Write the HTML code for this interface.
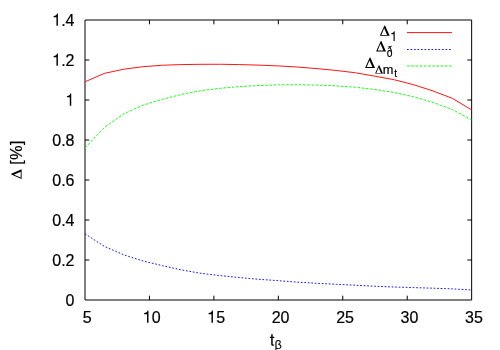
<!DOCTYPE html>
<html><head><meta charset="utf-8"><title>plot</title>
<style>
html,body{margin:0;padding:0;background:#fff;}
body{width:500px;height:350px;overflow:hidden;}
svg{display:block;will-change:transform;}
text{font-family:"Liberation Sans",sans-serif;font-size:16px;fill:#000;stroke:#000;stroke-width:0.2px;}
.sub{font-size:12.8px;}
.d{font-size:15px;}
</style></head><body>
<svg width="500" height="350" viewBox="0 0 500 350">
<defs><path id="one" d="M0.352,0 L0.352,0.765 L0.296,0.765 C0.280,0.680 0.215,0.622 0.082,0.605 L0.082,0.532 L0.262,0.532 L0.262,0 Z" fill="#000" stroke="none"/><path id="delta" fill-rule="evenodd" fill="#000" stroke="none" d="M0,0 L9.9,0 L5.25,-10.4 L4.65,-10.4 Z M1.6,-0.9 L7.3,-0.9 L4.35,-7.6 Z"/></defs>
<rect width="500" height="350" fill="#fff"/>
<g fill="none" stroke="#000" stroke-width="1">
<path d="M85.0,20.0 H471.65 V300.0 H85.0 Z"/>
<path d="M149.44,300.0 v-4.3 M149.44,20.0 v4.3 M213.88,300.0 v-4.3 M213.88,20.0 v4.3 M278.32,300.0 v-4.3 M278.32,20.0 v4.3 M342.77,300.0 v-4.3 M342.77,20.0 v4.3 M407.21,300.0 v-4.3 M407.21,20.0 v4.3 M85.0,260.00 h4.3 M471.65,260.00 h-4.3 M85.0,220.00 h4.3 M471.65,220.00 h-4.3 M85.0,180.00 h4.3 M471.65,180.00 h-4.3 M85.0,140.00 h4.3 M471.65,140.00 h-4.3 M85.0,100.00 h4.3 M471.65,100.00 h-4.3 M85.0,60.00 h4.3 M471.65,60.00 h-4.3 "/>
</g>
<g fill="none" stroke-width="0.92">
<path stroke="#ff0000" d="M85.00,81.80 L104.33,73.40 L123.66,69.24 L143.00,66.69 L162.33,65.25 L181.66,64.57 L200.99,64.30 L220.33,64.25 L239.66,64.60 L258.99,65.13 L278.32,65.92 L297.66,67.04 L316.99,68.64 L336.32,70.48 L355.65,72.81 L374.99,76.20 L394.32,79.76 L413.65,84.71 L432.99,90.96 L452.32,98.31 L471.65,109.90"/>
<path stroke="#0000ff" stroke-dasharray="1.7,1.8" d="M85.00,233.80 L104.33,246.35 L123.66,254.80 L143.00,260.97 L162.33,265.63 L181.66,269.97 L200.99,273.35 L220.33,275.64 L239.66,277.58 L258.99,279.32 L278.32,280.68 L297.66,282.14 L316.99,283.31 L336.32,284.31 L355.65,285.23 L374.99,286.27 L394.32,287.01 L413.65,287.60 L432.99,288.20 L452.32,288.90 L471.65,290.00"/>
<path stroke="#00ff00" stroke-dasharray="2.6,1.6" d="M85.00,148.00 L104.33,127.40 L123.66,113.89 L143.00,105.17 L162.33,99.31 L181.66,94.33 L200.99,90.65 L220.33,88.27 L239.66,86.52 L258.99,85.52 L278.32,84.81 L297.66,84.75 L316.99,85.11 L336.32,85.91 L355.65,87.27 L374.99,89.50 L394.32,92.51 L413.65,96.82 L432.99,102.41 L452.32,109.50 L471.65,119.90"/>
<path stroke="#ff0000" d="M407,32.6 H452"/>
<path stroke="#0000ff" stroke-dasharray="1.7,1.8" d="M407,49.5 H452"/>
<path stroke="#00ff00" stroke-dasharray="2.6,1.6" d="M407,66 H452"/>
</g>
<text x="82.85" y="322.70">5</text>
<use href="#one" transform="translate(142.85,322.70) scale(16.0,-16.0)"/><text x="151.74" y="322.70">0</text>
<use href="#one" transform="translate(207.29,322.70) scale(16.0,-16.0)"/><text x="216.18" y="322.70">5</text>
<text x="271.73" y="322.70">20</text>
<text x="336.17" y="322.70">25</text>
<text x="400.61" y="322.70">30</text>
<text x="465.05" y="322.70">35</text>
<text x="65.60" y="305.85">0</text>
<text x="52.26" y="265.85">0.2</text>
<text x="52.26" y="225.85">0.4</text>
<text x="52.26" y="185.85">0.6</text>
<text x="52.26" y="145.85">0.8</text>
<use href="#one" transform="translate(65.60,105.85) scale(16.0,-16.0)"/>
<use href="#one" transform="translate(52.26,65.85) scale(16.0,-16.0)"/><text x="61.16" y="65.85">.2</text>
<use href="#one" transform="translate(52.26,25.85) scale(16.0,-16.0)"/><text x="61.16" y="25.85">.4</text>

<use href="#delta" transform="translate(379.8,35.8)"/><use href="#one" transform="translate(390.20,41.00) scale(12.8,-12.8)"/>
<use href="#delta" transform="translate(376.1,51.4)"/><text transform="translate(386.7,57.0) scale(0.8,1.14)" class="sub">ð</text>
<use href="#delta" transform="translate(365.1,68)"/><use href="#delta" transform="translate(375.1,73.6) scale(0.8)"/><text x="382.8" y="73.6" class="sub">m</text><text x="394.2" y="77.3" style="font-size:10.24px">t</text>
<path fill="#000" d="M271.2,334.2 L272.7,334.2 L272.7,336.8 L274.3,336.8 L274.3,337.9 L272.7,337.9 L272.7,343.6 C272.7,344.4 273.0,344.65 273.6,344.65 L274.25,344.6 L274.25,345.6 C273.9,345.7 273.5,345.75 273.1,345.75 C271.8,345.75 271.2,345.2 271.2,343.9 L271.2,337.9 L269.9,337.9 L269.9,336.8 L271.2,336.8 Z"/><text x="274.4" y="349.0" class="sub" style="stroke-width:0.05px">β</text>
<use href="#delta" transform="translate(21.6,179.1) rotate(-90)"/>
<text transform="translate(21.8,169.3) rotate(-90)" style="white-space:pre"> <tspan style="letter-spacing:0.6px">[%]</tspan></text>
</svg>
</body></html>
